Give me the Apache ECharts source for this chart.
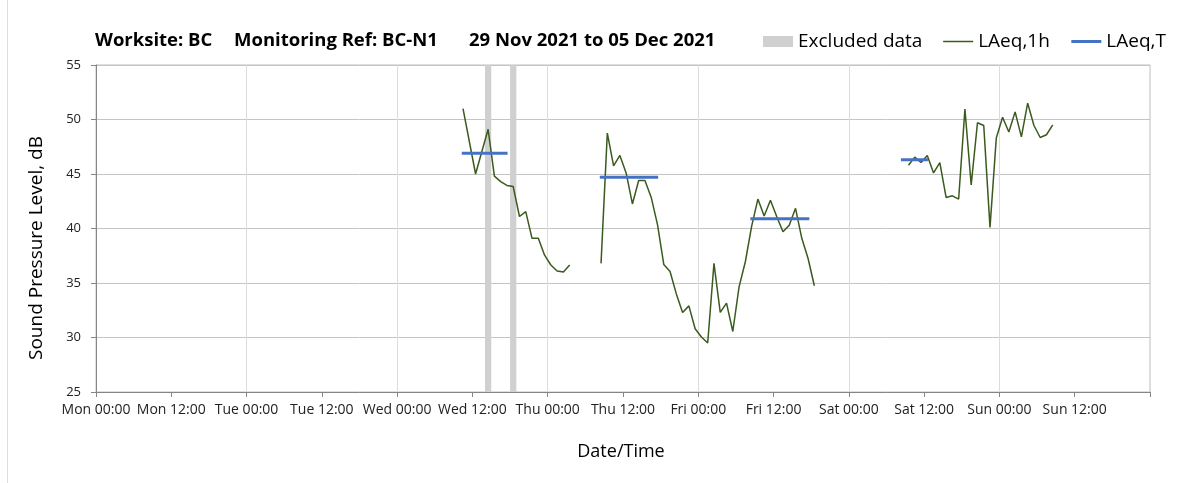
<!DOCTYPE html>
<html>
<head>
<meta charset="utf-8">
<title>LAeq BC-N1</title>
<style>
  html, body { margin: 0; padding: 0; background: #fff; }
  #chart { width: 1203px; height: 483px; }
</style>
</head>
<body>
<div id="chart"></div>
<script src="https://cdn.jsdelivr.net/npm/echarts@6/dist/echarts.min.js"></script>
<script>
    // x values are hours since Mon 00:00
    var tickLabels = ['Mon 00:00', 'Mon 12:00', 'Tue 00:00', 'Tue 12:00', 'Wed 00:00', 'Wed 12:00',
        'Thu 00:00', 'Thu 12:00', 'Fri 00:00', 'Fri 12:00', 'Sat 00:00', 'Sat 12:00',
        'Sun 00:00', 'Sun 12:00', ''];

    // LAeq,1h - three measured stretches
    var wedHours = [58.5, 60.5, 62.5, 63.5, 64.5, 65.5, 66.5, 67.5, 68.5, 69.5, 70.5, 71.5, 72.5, 73.5, 74.5, 75.5];
    var wedValues = [51.0, 45.0, 49.1, 44.8, 44.3, 43.95, 43.85, 41.1, 41.55, 39.1, 39.1, 37.55, 36.65, 36.1, 36.0, 36.65];

    var thuHours = [80.5, 81.5, 82.5, 83.5, 84.5, 85.5, 86.5, 87.5, 88.5, 89.5, 90.5, 91.5, 92.5, 93.5, 94.5,
        95.5, 96.5, 97.5, 98.5, 99.5, 100.5, 101.5, 102.5, 103.5, 104.5, 105.5, 106.5, 107.5, 108.5,
        109.5, 110.5, 111.5, 112.5, 113.5, 114.5];
    var thuValues = [36.8, 48.75, 45.75, 46.7, 45.1, 42.25, 44.4, 44.4, 42.85, 40.35, 36.7, 36.05, 34.0, 32.3, 32.9,
        30.8, 30.05, 29.5, 36.8, 32.3, 33.15, 30.55, 34.65, 36.95, 40.2, 42.7, 41.15, 42.6, 41.1,
        39.7, 40.3, 41.85, 39.1, 37.25, 34.75];

    var satHours = [129.5, 130.5, 131.5, 132.5, 133.5, 134.5, 135.5, 136.5, 137.5, 138.5, 139.5, 140.5,
        141.5, 142.5, 143.5, 144.5, 145.5, 146.5, 147.5, 148.5, 149.5, 150.5, 151.5, 152.5];
    var satValues = [45.8, 46.55, 46.05, 46.7, 45.1, 46.05, 42.85, 43.0, 42.7, 50.95, 44.0, 49.7,
        49.45, 40.1, 48.3, 50.2, 48.85, 50.7, 48.4, 51.5, 49.45, 48.35, 48.6, 49.5];

    // LAeq,T - period averages
    var periodStart = [58.3, 80.3, 104.3, 128.3];
    var periodEnd = [65.6, 89.6, 113.7, 132.6];
    var periodValues = [46.9, 44.7, 40.9, 46.3];

    // excluded hours
    var excludedStart = [62, 66];
    var excludedEnd = [63, 67];

    var font = 'Open Sans';
    var green = '#3a5a1e';
    var blue = '#4472c4';
    var grey = '#d0d0d0';

    function pairs(xs, ys) {
        var out = [];
        for (var i = 0; i < xs.length; i++) out.push([xs[i], ys[i]]);
        return out;
    }

    var series = [];

    var areas = [];
    for (var i = 0; i < excludedStart.length; i++) {
        areas.push([{xAxis: excludedStart[i]}, {xAxis: excludedEnd[i]}]);
    }
    series.push({
        name: 'Excluded data',
        type: 'line',
        data: [],
        z: 1,
        itemStyle: {color: grey},
        lineStyle: {color: grey},
        markArea: {
            silent: true,
            itemStyle: {color: grey, opacity: 1},
            data: areas
        }
    });

    [[wedHours, wedValues], [thuHours, thuValues], [satHours, satValues]].forEach(function (s) {
        series.push({
            name: 'LAeq,1h',
            type: 'line',
            symbol: 'none',
            z: 3,
            itemStyle: {color: green},
            lineStyle: {color: green, width: 1.5},
            data: pairs(s[0], s[1])
        });
    });

    for (var j = 0; j < periodValues.length; j++) {
        series.push({
            name: 'LAeq,T',
            type: 'line',
            symbol: 'none',
            z: 4,
            itemStyle: {color: blue},
            lineStyle: {color: blue, width: 3},
            data: [[periodStart[j], periodValues[j]], [periodEnd[j], periodValues[j]]]
        });
    }

    var titleFont = 'bold 18.5px "Open Sans"';

    var myChart = echarts.init(document.getElementById('chart'));
    var option = {
        animation: false,
        textStyle: {fontFamily: font},
        grid: {
            left: 96, right: 53, top: 65, bottom: 91,
            outerBoundsMode: 'none',
            show: true, borderColor: '#bfbfbf', borderWidth: 1
        },
        legend: {
            left: 763, top: 32, padding: 0,
            itemWidth: 30, itemHeight: 11, itemGap: 20,
            textStyle: {fontFamily: font, fontSize: 19, color: '#000'},
            data: [
                {name: 'Excluded data', icon: 'rect'},
                {name: 'LAeq,1h', itemStyle: {opacity: 0}, lineStyle: {width: 1.5}},
                {name: 'LAeq,T', itemStyle: {opacity: 0}, lineStyle: {width: 3}}
            ]
        },
        xAxis: [{
            type: 'value',
            min: 0, max: 168, interval: 12,
            axisLine: {show: true, lineStyle: {color: '#868686'}},
            axisTick: {show: true, length: 5, lineStyle: {color: '#868686'}},
            axisLabel: {
                margin: 11, fontSize: 14, color: '#222', fontFamily: font,
                formatter: function (v) { return tickLabels[Math.round(v / 12)]; }
            },
            splitLine: {show: false}
        }, {
            // day gridlines only
            type: 'value',
            position: 'top',
            min: 0, max: 168, interval: 24,
            axisLine: {show: false}, axisTick: {show: false}, axisLabel: {show: false},
            splitLine: {show: true, lineStyle: {color: '#dcdcdc', width: 1}}
        }],
        yAxis: {
            type: 'value',
            min: 25, max: 55, interval: 5,
            axisLine: {show: true, lineStyle: {color: '#868686'}},
            axisTick: {show: true, length: 5, lineStyle: {color: '#868686'}},
            axisLabel: {margin: 15, fontSize: 13, color: '#222', fontFamily: font},
            splitLine: {lineStyle: {color: '#c4c4c4', width: 1}}
        },
        graphic: [
            {type: 'line', shape: {x1: 7.5, y1: 0, x2: 7.5, y2: 483}, style: {stroke: '#dddddd', lineWidth: 1}, silent: true},
            {type: 'text', x: 95, y: 41, style: {text: 'Worksite: BC', font: titleFont, fill: '#000', textVerticalAlign: 'middle'}},
            {type: 'text', x: 234, y: 41, style: {text: 'Monitoring Ref: BC-N1', font: titleFont, fill: '#000', textVerticalAlign: 'middle'}},
            {type: 'text', x: 469, y: 41, style: {text: '29 Nov 2021 to 05 Dec 2021', font: titleFont, fill: '#000', textVerticalAlign: 'middle'}},
            {type: 'text', x: 37, y: 248, rotation: Math.PI / 2,
                style: {text: 'Sound Pressure Level, dB', font: '19px "Open Sans"', fill: '#000', textAlign: 'center', textVerticalAlign: 'middle'}},
            {type: 'text', x: 621, y: 452,
                style: {text: 'Date/Time', font: '18px "Open Sans"', fill: '#000', textAlign: 'center', textVerticalAlign: 'middle'}}
        ],
        series: series
    };
    myChart.setOption(option);
</script>
</body>
</html>
